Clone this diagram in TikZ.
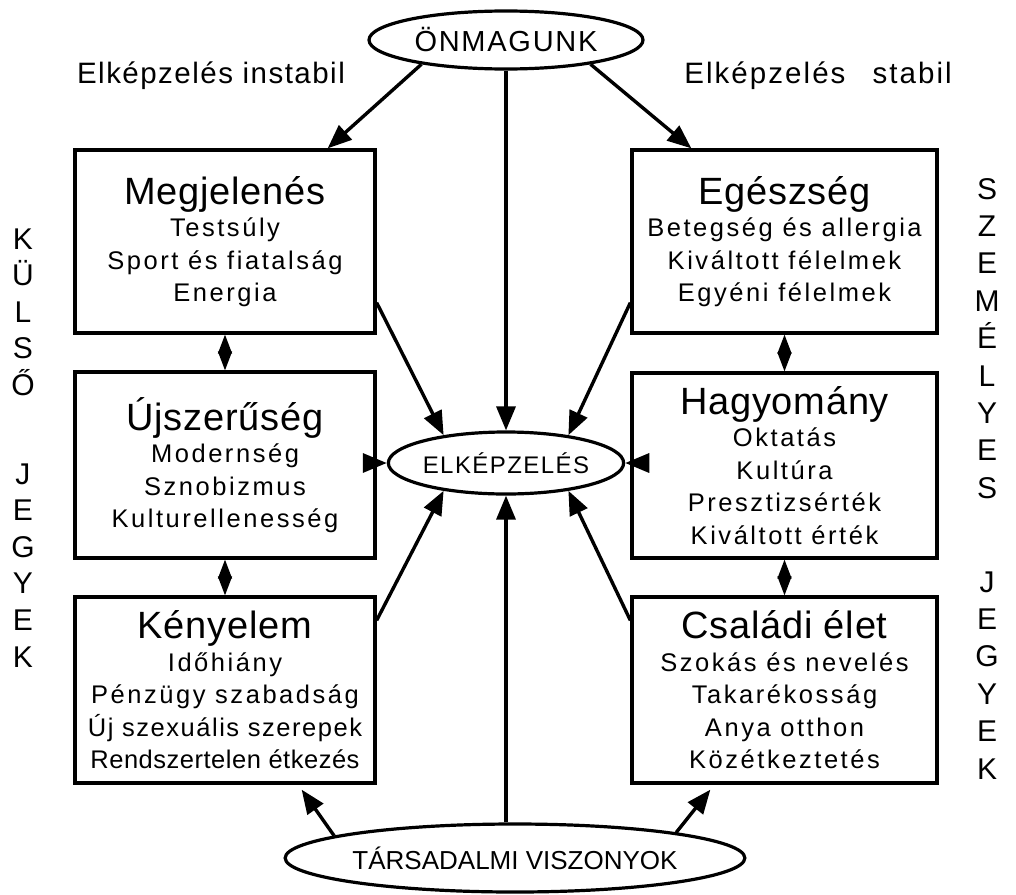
\documentclass[tikz,border=0pt]{standalone}
\usepackage{fontspec}
\setmainfont{Liberation Sans}
\newfontfamily\subfont[LetterSpace=10]{Liberation Sans}
\newfontfamily\tightfont[LetterSpace=2]{Liberation Sans}
\newfontfamily\midfont[LetterSpace=6]{Liberation Sans}
\newfontfamily\titfont[LetterSpace=2]{Liberation Sans}
\newfontfamily\lblfont[LetterSpace=5]{Liberation Sans}
\newfontfamily\wlblfont[LetterSpace=7]{Liberation Sans}
\newfontfamily\ovfont[LetterSpace=6]{Liberation Sans}
\usetikzlibrary{shapes.geometric,arrows.meta,calc}
\newcommand\boxtitle[1]{{\titfont\fontsize{38}{32.5}\selectfont #1}}
\begin{document}
\begin{tikzpicture}[x=1pt,y=-1pt,
  box/.style={draw,line width=3.3pt,minimum width=300pt,minimum height=183pt,inner sep=0pt,align=center,
    font=\subfont\fontsize{25.5}{32.5}\selectfont},
  oval/.style={draw,ellipse,line width=3.2pt,inner sep=0pt},
  arr/.style={line width=3.4pt,-{Triangle[length=24pt,width=19pt]}},
  dbl/.style={line width=1.5pt,{Triangle[length=19pt,width=14pt]}-{Triangle[length=19pt,width=14pt]}},
  side/.style={font=\fontsize{30}{30}\selectfont,anchor=base,inner sep=0pt},
  lbl/.style={font=\lblfont\fontsize{29.5}{29.5}\selectfont,inner sep=0pt}
]
\useasboundingbox (0,0) rectangle (1016,894);

% ovals
\node[oval,minimum width=274pt,minimum height=58pt,font=\ovfont\fontsize{29}{29}\selectfont] (onm) at (506,40) {ÖNMAGUNK};
\node[oval,minimum width=200pt,minimum height=62pt,font=\ovfont\fontsize{24}{24}\selectfont] (elk) at (506,463) {ELKÉPZELÉS};
\node[oval,minimum width=420pt,minimum height=68pt,font=\fontsize{26}{26}\selectfont] (tar) at (515,858) {TÁRSADALMI VISZONYOK};

% labels
\node[lbl] (instab) at (211,76) {Elképzelés instabil};
\node[lbl,font=\wlblfont\fontsize{29.5}{29.5}\selectfont] (stab) at (818,76) {Elképzelés\hspace{27pt}stabil};

% boxes
\node[box] (meg) at (225,241.5) {\boxtitle{Megjelenés}\\Testsúly\\Sport és fiatalság\\Energia};
\node[box,minimum height=186pt] (ujs) at (225,465) {\boxtitle{Újszerűség}\\Modernség\\Sznobizmus\\Kulturellenesség};
\node[box,minimum height=186pt] (ken) at (225,690) {\boxtitle{Kényelem}\\Időhiány\\Pénzügy szabadság\\{\midfont Új szexuális szerepek}\\{\tightfont Rendszertelen étkezés}};
\node[box,minimum width=305pt] (ege) at (784.5,241.5) {\boxtitle{Egészség}\\Betegség és allergia\\Kiváltott félelmek\\Egyéni félelmek};
\node[box,minimum width=305pt,minimum height=185pt] (hag) at (784.5,465.5) {\boxtitle{Hagyomány}\\Oktatás\\Kultúra\\Presztizsérték\\Kiváltott érték};
\node[box,minimum width=305pt,minimum height=186pt] (csa) at (784.5,690) {\boxtitle{Családi élet}\\Szokás és nevelés\\Takarékosság\\Anya otthon\\Közétkeztetés};

% side letters
\foreach \l/\y [count=\i] in {K/238,Ü/274.5,L/311,S/347.5,Ő/384,J/473,E/509.5,G/546,Y/582.5,E/619,K/656}
  \node[side] (left\i) at (23,\y+11) {\l};
\foreach \l/\y [count=\i] in {S/188,Z/225.4,E/262.8,M/300.2,É/337.6,L/375,Y/412.4,E/449.8,S/487.2,J/581,E/618.4,G/655.8,Y/693.2,E/730.6,K/768}
  \node[side] (right\i) at (987,\y+11) {\l};

% arrows
\draw[arr] (onm.196) -- ($(meg.north east)+(-49,0)$);
\draw[arr] (onm.344) -- ($(ege.north west)+(61,0)$);
\draw[arr] (onm.south) -- (elk.north);
\draw[arr] ($(meg.south east)+(0,-32)$) -- (elk.156);
\draw[arr] ($(ege.south west)+(0,-32)$) -- (elk.24);
\draw[arr] (ujs.east |- elk.west) -- (elk.west);
\draw[arr] (hag.west |- elk.east) -- (elk.east);
\draw[arr] ($(ken.north east)+(0,25)$) -- (elk.204);
\draw[arr] ($(csa.north west)+(0,25)$) -- (elk.336);
\draw[arr] (tar.north -| elk.south) -- (elk.south);
\draw[arr] (tar.173) -- ($(ken.south east)+(-75,5)$);
\draw[arr] (tar.9) -- ($(csa.south west)+(80,5)$);

% double arrows
\draw[dbl] (meg.south) -- (ujs.north);
\draw[dbl] (ujs.south) -- (ken.north);
\draw[dbl] (ege.south) -- (hag.north);
\draw[dbl] (hag.south) -- (csa.north);
\end{tikzpicture}
\end{document}
